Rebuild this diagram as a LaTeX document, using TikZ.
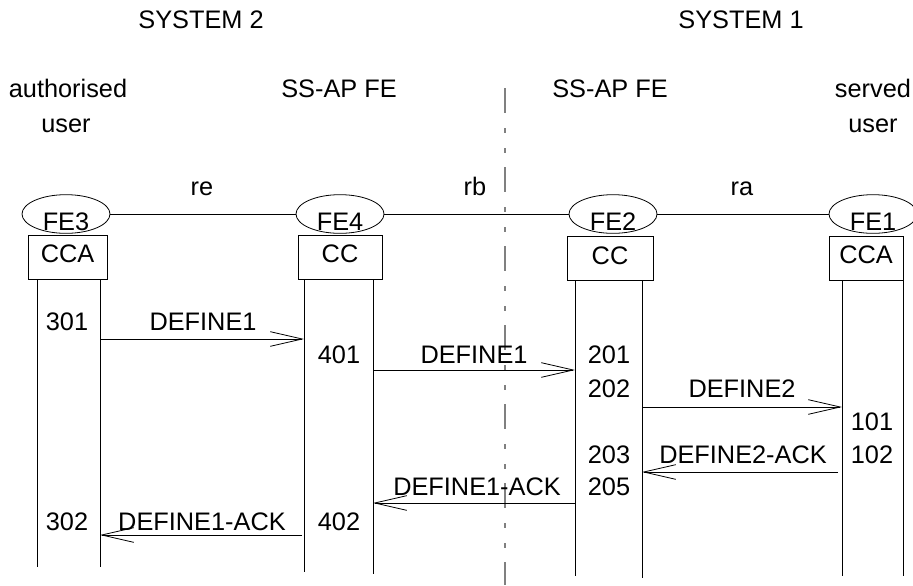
\documentclass[tikz,border=0pt]{standalone}
\usepackage{fontspec}
\setmainfont{Liberation Sans}
\usetikzlibrary{arrows.meta,shapes.geometric}

\begin{document}
\begin{tikzpicture}[x=0.75pt,y=-0.75pt,line width=0.6pt,
  every node/.style={font=\fontsize{19}{22}\selectfont,inner sep=0pt},
  txt/.style={anchor=base},
  fe/.style={ellipse,draw,minimum width=66pt,minimum height=29pt},
  fetext/.style={yshift=-6pt},
  ccbox/.style={rectangle,draw,minimum height=33pt,text depth=4.6pt},
  msg/.style={-{Straight Barb[length=24pt,width=11pt]}},
  divider/.style={gray,line width=1.2pt,
    dash pattern=on 18.75pt off 11.25pt on 3.75pt off 11.25pt on 3.75pt off 10.5pt}]
  \useasboundingbox (0,0) rectangle (913,585);

  % headings
  \node[txt] (sys2) at (201,29) {SYSTEM 2};
  \node[txt] (sys1) at (741,29) {SYSTEM 1};
  \node[txt] (auth) at (68,98) {authorised};
  \node[txt] (authuser) at (66,132) {user};
  \node[txt] (apfe4) at (339,98) {SS-AP FE};
  \node[txt] (apfe2) at (610,98) {SS-AP FE};
  \node[txt] (served) at (873,98) {served};
  \node[txt] (serveduser) at (873,132) {user};

  % boundary between the two systems
  \coordinate (divtop) at (505,88);
  \coordinate (divbot) at (505,585);
  \draw[divider] (divtop) -- (divbot);

  % functional entities
  \node[fe,label={[fetext]center:FE3}] (fe3) at (66,214) {};
  \node[fe,label={[fetext]center:FE4}] (fe4) at (340,214) {};
  \node[fe,label={[fetext]center:FE2}] (fe2) at (613,214) {};
  \node[fe,label={[fetext]center:FE1}] (fe1) at (873,214) {};

  \draw (fe3) -- (fe4);
  \draw (fe4) -- (fe2);
  \draw (fe2) -- (fe1);
  \node[txt] (re) at (202,195) {re};
  \node[txt] (rb) at (475,195) {rb};
  \node[txt] (ra) at (742,195) {ra};

  \node[ccbox,minimum width=59.25pt] (cca3) at (67.5,257) {CCA};
  \node[ccbox,minimum width=63pt] (cc4) at (340,257) {CC};
  \node[ccbox,minimum width=64.5pt] (cc2) at (610,258.5) {CC};
  \node[ccbox,minimum width=55.5pt] (cca1) at (866,258) {CCA};

  % lifelines
  \coordinate (l3a) at (37,567);
  \coordinate (l3b) at (100,567);
  \coordinate (l4a) at (304,572);
  \coordinate (l4b) at (373,574);
  \coordinate (l2a) at (575,576);
  \coordinate (l2b) at (642,578);
  \coordinate (l1a) at (842,576);
  \coordinate (l1b) at (903,576);
  \foreach \fbox/\lline in {cca3/l3a,cca3/l3b,cc4/l4a,cc4/l4b,
                            cc2/l2a,cc2/l2b,cca1/l1a,cca1/l1b}
    \draw (\fbox.south -| \lline) -- (\lline);

  % flows
  \draw[msg] (l3b |- 0,339) -- (l4a |- 0,339);
  \draw[msg] (l4b |- 0,370) -- (l2a |- 0,370);
  \draw[msg] (l2b |- 0,407) -- (l1a |- 0,407);
  \draw[msg] ([xshift=-3pt]l1a |- 0,472) -- (l2b |- 0,472);
  \draw[msg] (l2a |- 0,503) -- (l4b |- 0,503);
  \draw[msg] ([xshift=-1.5pt]l4a |- 0,535) -- (l3b |- 0,535);

  \node[txt] (def1a) at (203,330) {DEFINE1};
  \node[txt] (def1b) at (474,363) {DEFINE1};
  \node[txt] (def2) at (742,397) {DEFINE2};
  \node[txt] (def2ack) at (743,463) {DEFINE2-ACK};
  \node[txt] (def1ackb) at (477,495) {DEFINE1-ACK};
  \node[txt] (def1acka) at (202,530) {DEFINE1-ACK};

  % action numbers
  \node[txt] (n301) at (67,330) {301};
  \node[txt] (n302) at (67,530) {302};
  \node[txt] (n401) at (339,363) {401};
  \node[txt] (n402) at (339,530) {402};
  \node[txt] (n201) at (609,363) {201};
  \node[txt] (n202) at (609,397) {202};
  \node[txt] (n203) at (609,463) {203};
  \node[txt] (n205) at (609,495) {205};
  \node[txt] (n101) at (872,430) {101};
  \node[txt] (n102) at (872,463) {102};
\end{tikzpicture}
\end{document}
